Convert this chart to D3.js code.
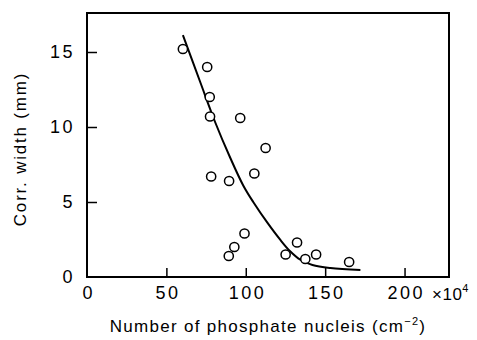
<!DOCTYPE html>
<html>
<head>
<meta charset="utf-8">
<script src="https://cdn.jsdelivr.net/npm/d3@7"></script>
<style>
  html, body { margin: 0; padding: 0; background: #fff; }
  svg { display: block; }
  text { font-family: "Liberation Sans", "DejaVu Sans", sans-serif; fill: #000; }
</style>
</head>
<body>
<script>
// Data
const nucleiX = [60.4, 75.7, 77.3, 77.5, 96.5, 112.5, 78.2, 89.5, 105.4, 99.2, 92.8, 89.3, 132.3, 125.1, 137.5, 144.3, 165.1];
const corrWidth = [15.2, 14.0, 12.0, 10.7, 10.6, 8.6, 6.7, 6.4, 6.9, 2.9, 2.0, 1.4, 2.3, 1.5, 1.2, 1.5, 1.0];

const fitX = [60.4, 71.3, 80.8, 90.2, 98.4, 104.7, 113.6, 121.8, 128.1, 134.4, 142.0, 153.3, 172.2];
const fitY = [16.13, 13.0, 10.3, 7.95, 6.1, 5.0, 3.62, 2.47, 1.7, 1.15, 0.8, 0.6, 0.47];

const xTicks = [0, 50, 100, 150, 200];
const yTicks = [0, 5, 10, 15];

const W = 477, H = 340;
const svg = d3.select("body").append("svg").attr("width", W).attr("height", H);

const x = d3.scaleLinear().domain([0, 228]).range([87, 449]);
const y = d3.scaleLinear().domain([0, 17.6]).range([277, 13]);

// Frame
svg.append("rect")
  .attr("x", x(0)).attr("y", y(17.6))
  .attr("width", x(228) - x(0)).attr("height", y(0) - y(17.6))
  .attr("fill", "none").attr("stroke", "#000").attr("stroke-width", 2);

// Axes with inward ticks
const xAxis = d3.axisBottom(x).tickValues(xTicks).tickSize(-9).tickPadding(9).tickFormat(d3.format("d"));
const gx = svg.append("g").attr("transform", `translate(0,${y(0)})`).call(xAxis);
gx.select(".domain").remove();
gx.selectAll(".tick line").attr("stroke", "#000").attr("stroke-width", 1.5)
  .filter(d => d === 0).remove();
gx.selectAll(".tick text").attr("font-size", 18).attr("letter-spacing", "2.5px")
  .attr("dx", "1.2px")
  .style("font-family", "'Liberation Sans', sans-serif");

const yAxis = d3.axisLeft(y).tickValues(yTicks).tickSize(-10).tickPadding(12).tickFormat(d3.format("d"));
const gy = svg.append("g").attr("transform", `translate(${x(0)},0)`).call(yAxis);
gy.select(".domain").remove();
gy.selectAll(".tick line").attr("stroke", "#000").attr("stroke-width", 1.5)
  .filter(d => d === 0).remove();
gy.selectAll(".tick text").attr("font-size", 18).attr("letter-spacing", "2.5px")
  .style("font-family", "'Liberation Sans', sans-serif");

// x10^4 unit
const unit = svg.append("text").attr("x", 432).attr("y", 300).attr("font-size", 17).attr("letter-spacing", "0.5px");
unit.append("tspan").text("×10");
unit.append("tspan").attr("dy", -8).attr("font-size", 11).text("4");

// Axis titles
const xt = svg.append("text").attr("x", 268).attr("y", 332).attr("text-anchor", "middle")
  .attr("font-size", 17).attr("letter-spacing", "1.3px");
xt.append("tspan").text("Number of phosphate nucleis (cm");
xt.append("tspan").attr("dy", -7).attr("font-size", 11).text("−2");
xt.append("tspan").attr("dy", 7).text(")");

svg.append("text")
  .attr("transform", "translate(26,149) rotate(-90)")
  .attr("text-anchor", "middle").attr("font-size", 17).attr("letter-spacing", "1.8px")
  .text("Corr. width (mm)");

// Fitted curve
const line = d3.line().x((d, i) => x(fitX[i])).y((d, i) => y(fitY[i])).curve(d3.curveCatmullRom.alpha(0.5));
svg.append("path").datum(fitX).attr("d", line)
  .attr("fill", "none").attr("stroke", "#000").attr("stroke-width", 2);

// Data points
svg.selectAll("circle.pt").data(nucleiX).enter().append("circle")
  .attr("class", "pt")
  .attr("cx", (d) => x(d))
  .attr("cy", (d, i) => y(corrWidth[i]))
  .attr("r", 4.6)
  .attr("fill", "#fff").attr("stroke", "#000").attr("stroke-width", 1.5);
</script>
</body>
</html>
